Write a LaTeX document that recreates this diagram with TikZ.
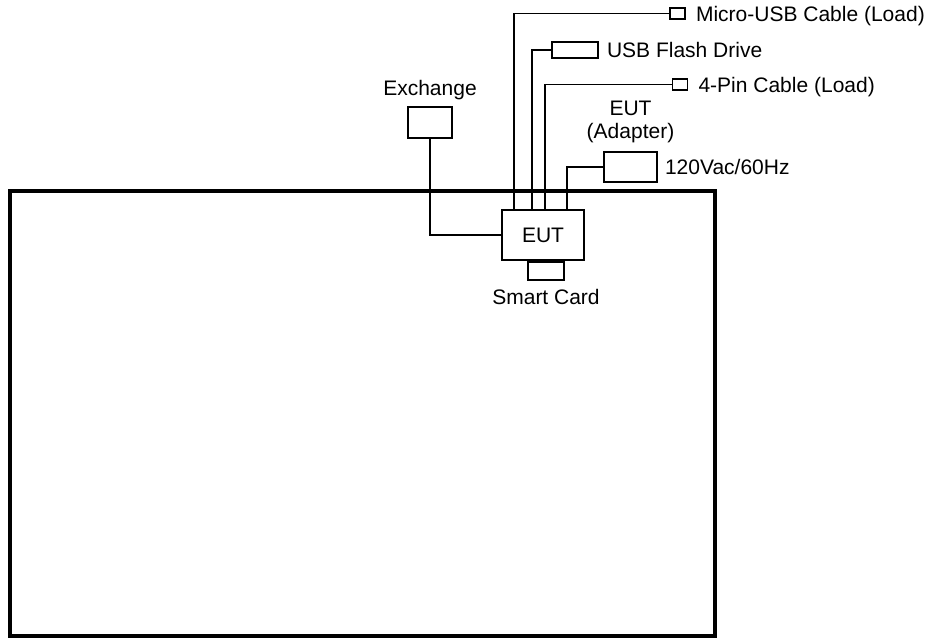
\documentclass[tikz,border=0pt]{standalone}
\usepackage{fontspec}
\setmainfont{Liberation Sans}
\usetikzlibrary{positioning}

\begin{document}
\begin{tikzpicture}[
    x=1pt, y=-1pt,
    font=\fontsize{21}{23}\selectfont,
    box/.style={draw, line width=1.7pt, inner sep=0pt, fill=white},
    plug/.style={draw, line width=1.7pt, inner sep=0pt, minimum width=15pt, minimum height=11pt, fill=white},
    cable/.style={line width=1.7pt},
    caption/.style={inner sep=0pt, text height=15pt, text depth=0pt},
]
    \useasboundingbox (0,0) rectangle (933,638);

    % Table outline
    \draw[line width=4pt] (9.5,191) rectangle (715,636);

    % Units
    \node[box, minimum width=82pt, minimum height=50pt] (eut) at (543,235) {EUT};
    \node[box, minimum width=36pt, minimum height=18pt, anchor=north] (card) at ([xshift=3pt]eut.south) {};
    \node[box, minimum width=44pt, minimum height=31pt] (exchange) at (430,122.5) {};
    \node[box, minimum width=53pt, minimum height=30pt] (adapter) at (630.5,167) {};
    \node[box, minimum width=46pt, minimum height=16pt] (flash) at (575,50) {};
    \node[plug] (micro) at (677.5,13.5) {};
    \node[plug] (pin) at (680,84.5) {};

    % Cables
    \draw[cable] (exchange.south) |- (eut.west);
    \draw[cable] ([xshift=13pt]eut.north west) |- (micro.west);
    \draw[cable] ([xshift=31pt]eut.north west) |- (flash.west);
    \draw[cable] ([xshift=44pt]eut.north west) |- (pin.west);
    \draw[cable] ([xshift=66pt]eut.north west) |- (adapter.west);

    % Labels
    \node[caption, right=10pt of micro] (microlabel) {Micro-USB Cable (Load)};
    \node[caption, right=8pt of flash] (flashlabel) {USB Flash Drive};
    \node[caption, right=10pt of pin] (pinlabel) {4-Pin Cable (Load)};
    \node[caption, right=7pt of adapter] (powerlabel) {120Vac/60Hz};
    \node[inner sep=0pt, align=center, above=8pt of adapter] (adapterlabel) {EUT\\(Adapter)};
    \node[caption, above=10pt of exchange] (exchangelabel) {Exchange};
    \node[caption, below=9pt of card] (cardlabel) {Smart Card};

\end{tikzpicture}
\end{document}
